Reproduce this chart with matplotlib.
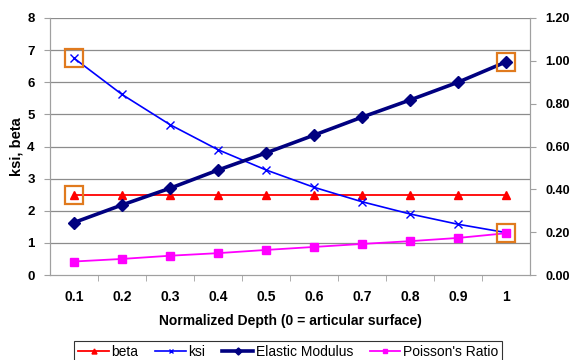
import matplotlib
matplotlib.use("Agg")
import matplotlib.pyplot as plt

plt.rcParams['font.family'] = ['Liberation Sans', 'DejaVu Sans']

depth_labels = ["0.1", "0.2", "0.3", "0.4", "0.5", "0.6", "0.7", "0.8", "0.9", "1"]
beta = [2.5, 2.5, 2.5, 2.5, 2.5, 2.5, 2.5, 2.5, 2.5, 2.5]
ksi = [6.75, 5.62, 4.68, 3.90, 3.27, 2.73, 2.28, 1.90, 1.58, 1.32]
elastic_modulus = [0.245, 0.327, 0.405, 0.490, 0.570, 0.653, 0.737, 0.817, 0.900, 0.995]
poisson_ratio = [0.063, 0.075, 0.090, 0.102, 0.117, 0.131, 0.145, 0.158, 0.173, 0.195]

left_ticks = [0, 1, 2, 3, 4, 5, 6, 7, 8]
right_ticks = [0.0, 0.2, 0.4, 0.6, 0.8, 1.0, 1.2]

fig = plt.figure(figsize=(5.73, 3.60), dpi=100)
ax = fig.add_axes([50/573, 1-275/360, (530-50)/573, (275-18)/360])
ax2 = ax.twinx()

x = list(range(len(depth_labels)))

ax.set_xlim(-0.5, len(x) - 0.5)
ax.set_ylim(0, 8)
ax2.set_ylim(0, 1.2)

grid_c = '#8c8c8c'
for yv in left_ticks[1:]:
    ax.axhline(yv, color=grid_c, lw=0.9, zorder=0)

for a in (ax, ax2):
    a.spines['top'].set_visible(False)
    a.spines['left'].set_color('#a0a0a0')
    a.spines['right'].set_color('#a0a0a0')
    a.spines['bottom'].set_color('#a0a0a0')

l1, = ax.plot(x, beta, color='#ff0000', lw=1.3, marker='^', ms=6, zorder=3)
l2, = ax.plot(x, ksi, color='#0000ff', lw=1.2, marker='x', ms=6, mew=1.0, zorder=3)
l3, = ax2.plot(x, elastic_modulus, color='#000080', lw=2.6, marker='D', ms=6, zorder=3)
l4, = ax2.plot(x, poisson_ratio, color='#ff00ff', lw=1.3, marker='s', ms=6, zorder=3)

# highlight squares
hl_orange = '#e07a1e'
ax.plot([x[0], x[0]], [ksi[0], beta[0]], ls='none', marker='s', ms=12.5, mfc='none',
        mec=hl_orange, mew=1.6, zorder=4)
ax2.plot([x[-1], x[-1]], [elastic_modulus[-1], poisson_ratio[-1]], ls='none', marker='s', ms=12.5,
         mfc='none', mec=hl_orange, mew=1.6, zorder=4)

ax.set_xticks(x)
ax.set_xticklabels(depth_labels, fontsize=10, fontweight='bold')
ax.set_xticks([i + 0.5 for i in x[:-1]], minor=True)
ax.tick_params(axis='x', which='major', length=0, pad=11)
ax.tick_params(axis='x', which='minor', length=4, color='#a0a0a0')

ax.set_yticks(left_ticks)
ax.set_yticklabels([str(t) for t in left_ticks], fontsize=9.5, fontweight='bold')
ax.tick_params(axis='y', length=4, color='#a0a0a0', pad=7)

ax2.set_yticks(right_ticks)
ax2.set_yticklabels([f"{t:.2f}" for t in right_ticks], fontsize=9, fontweight='bold')
ax2.tick_params(axis='y', length=4, color='#a0a0a0', pad=7)

ax.set_xlabel("Normalized Depth (0 = articular surface)", fontsize=10, fontweight='bold', labelpad=7)
ax.set_ylabel("ksi, beta", fontsize=10.5, fontweight='bold', labelpad=3)

leg = fig.legend([l1, l2, l3, l4], ["beta", "ksi", "Elastic Modulus", "Poisson's Ratio"],
                 loc='upper center', bbox_to_anchor=(0.503, 1 - 334/360), ncol=4,
                 fontsize=10, frameon=True, fancybox=False, handlelength=2.2,
                 handletextpad=0.2, columnspacing=1.2, borderpad=0.3, markerscale=0.6)
leg.get_frame().set_edgecolor('#000000')
leg.get_frame().set_linewidth(0.8)

fig.savefig("out.png", dpi=100)
